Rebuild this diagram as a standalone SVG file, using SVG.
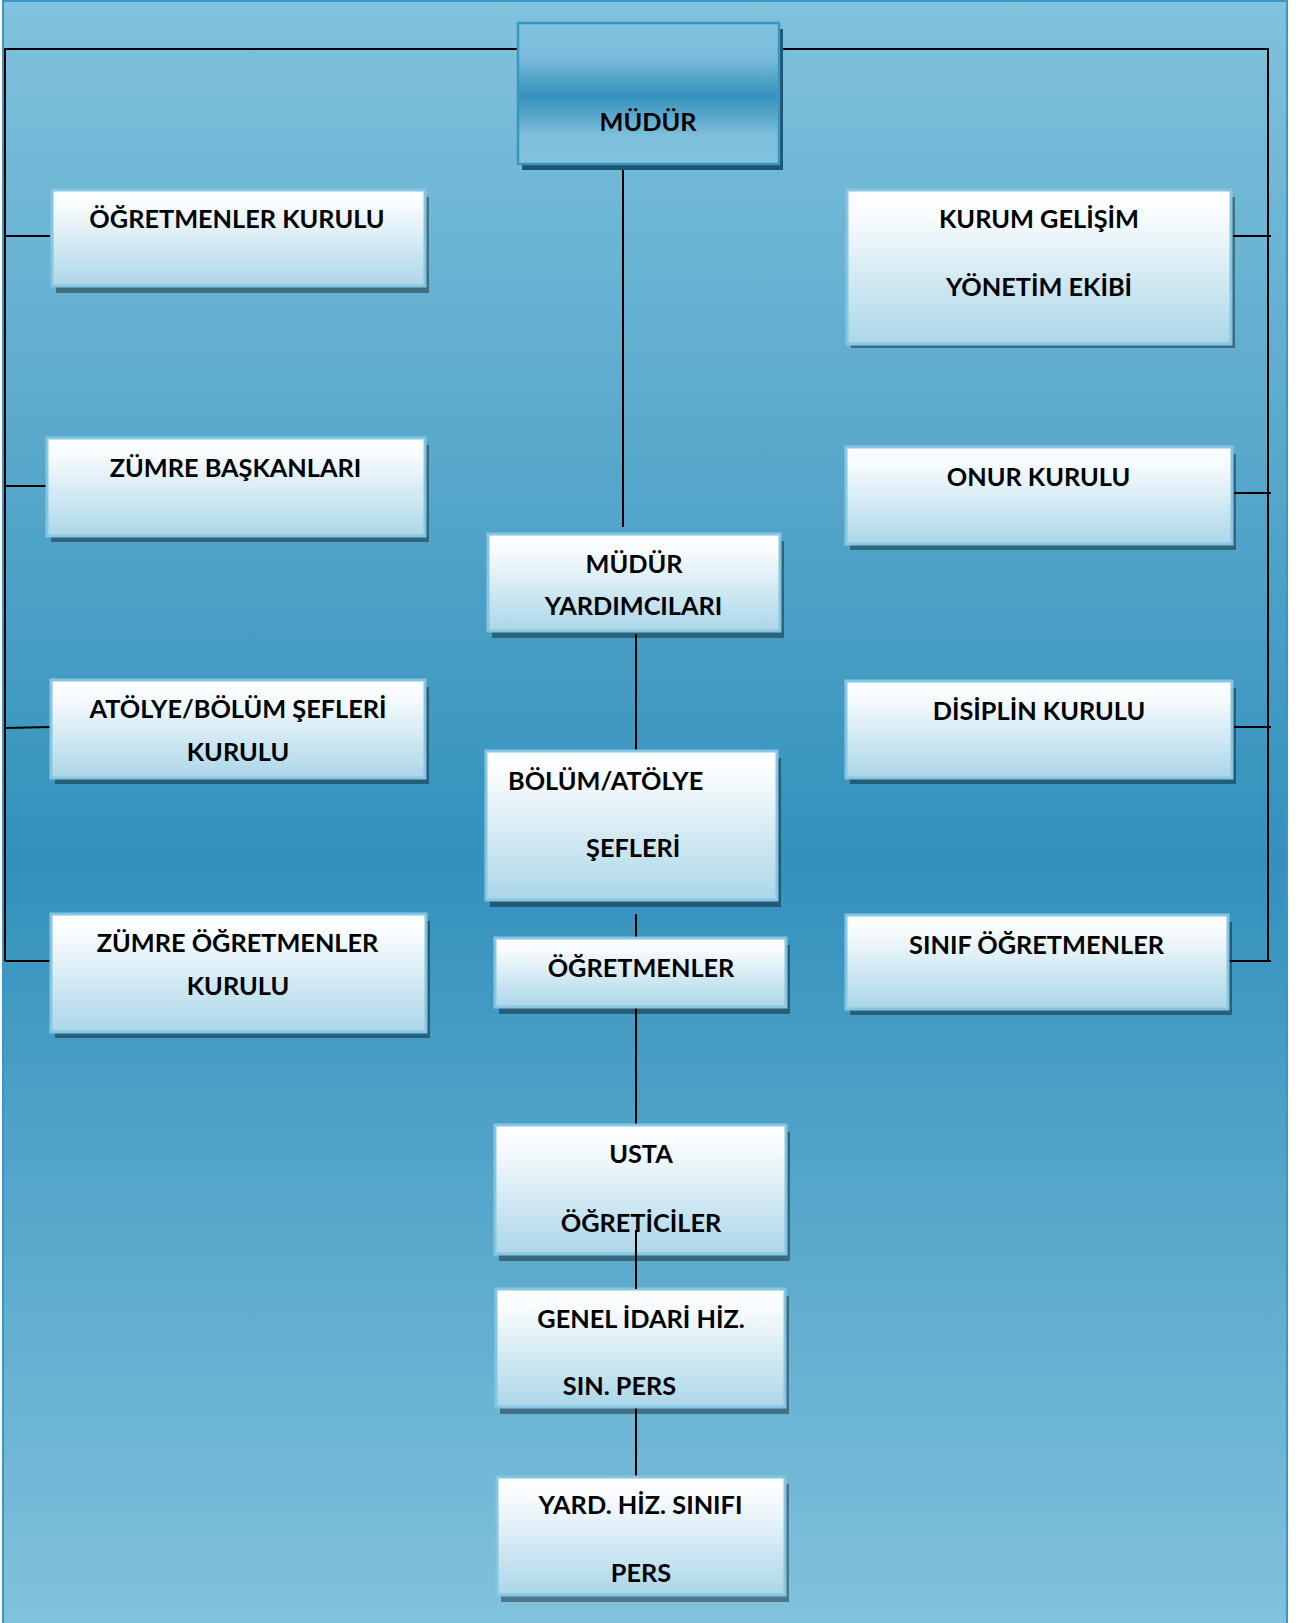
<svg xmlns="http://www.w3.org/2000/svg" width="1296" height="1623" viewBox="0 0 1296 1623">
<defs>
<linearGradient id="bg" x1="0" y1="0" x2="0" y2="1">
<stop offset="0" stop-color="#81c2dd"/>
<stop offset="0.53" stop-color="#3391bc"/>
<stop offset="1" stop-color="#81c2dd"/>
</linearGradient>
<linearGradient id="boxfill" x1="0" y1="0" x2="0" y2="1">
<stop offset="0" stop-color="#ffffff"/>
<stop offset="0.18" stop-color="#f7fbfd"/>
<stop offset="1" stop-color="#abd6e8"/>
</linearGradient>
<linearGradient id="topfill" x1="0" y1="0" x2="0" y2="1">
<stop offset="0" stop-color="#82c2dd"/>
<stop offset="0.25" stop-color="#7abcda"/>
<stop offset="0.52" stop-color="#3592bc"/>
<stop offset="0.8" stop-color="#7ebfdc"/>
<stop offset="1" stop-color="#82c2dd"/>
</linearGradient>
</defs>
<style>
.box{fill:url(#boxfill);stroke:#86c6e2;stroke-width:3}
.shadow{fill:#000000;fill-opacity:0.38}
.t{font-family:Lato,"Liberation Sans",sans-serif;font-weight:700;font-size:25.3px;fill:#000000;text-anchor:middle}
.ts{text-anchor:start}
.conn line,.conn path{stroke:#000000;stroke-width:2;fill:none}
</style>
<rect x="0" y="0" width="1296" height="1623" fill="#ffffff"/>
<rect x="3" y="1" width="1284" height="1624" fill="url(#bg)" stroke="#3d95c0" stroke-width="2"/>

<g id="connectors" class="conn">
<path d="M5,49 H518"/>
<path d="M782,49 H1268 V961"/>
<path d="M5,48 V961"/>
<line x1="5" y1="236" x2="50" y2="236"/>
<line x1="5" y1="486" x2="46" y2="486"/>
<line x1="5" y1="728" x2="50" y2="727"/>
<line x1="5" y1="961" x2="51" y2="961"/>
<line x1="1233" y1="236" x2="1271" y2="236"/>
<line x1="1234" y1="493" x2="1271" y2="493"/>
<line x1="1234" y1="727" x2="1271" y2="727"/>
<line x1="1229" y1="961" x2="1271" y2="961"/>
<line x1="623" y1="166" x2="623" y2="527"/>
<line x1="636" y1="634" x2="636" y2="751"/>
<line x1="636" y1="914" x2="636" y2="938"/>
<line x1="636" y1="1008" x2="636" y2="1125"/>
<line x1="636" y1="1406" x2="636" y2="1477"/>
</g>

<g id="mudur">
<rect x="522" y="29" width="261" height="141" fill="#1e5570"/>
<rect x="518" y="23" width="261" height="141" fill="url(#topfill)" stroke="#3a96c0" stroke-width="2.5"/>
<text class="t" x="648" y="131">MÜDÜR</text>
</g>

<g id="ogretmenler-kurulu">
<rect class="shadow" x="56" y="197" width="373" height="96"/>
<rect class="box" x="52" y="190" width="373" height="96"/>
<text class="t" x="237" y="228">ÖĞRETMENLER KURULU</text>
</g>

<g id="kurum-gelisim">
<rect class="shadow" x="851" y="197" width="384" height="151"/>
<rect class="box" x="847" y="190" width="384" height="154"/>
<text class="t" x="1039" y="228">KURUM GELİŞİM</text>
<text class="t" x="1039" y="296">YÖNETİM EKİBİ</text>
</g>

<g id="zumre-baskanlari">
<rect class="shadow" x="51" y="445" width="378" height="97"/>
<rect class="box" x="47" y="438" width="378" height="98"/>
<text class="t" x="235.5" y="477">ZÜMRE BAŞKANLARI</text>
</g>

<g id="onur-kurulu">
<rect class="shadow" x="850" y="454" width="386" height="96"/>
<rect class="box" x="846" y="447" width="386" height="97"/>
<text class="t" x="1038.5" y="486">ONUR KURULU</text>
</g>

<g id="mudur-yardimcilari">
<rect class="shadow" x="492" y="541" width="292" height="97"/>
<rect class="box" x="488" y="534" width="292" height="97"/>
<text class="t" x="634" y="573">MÜDÜR</text>
<text class="t" x="633.5" y="615">YARDIMCILARI</text>
</g>

<g id="atolye-bolum-sefleri-kurulu">
<rect class="shadow" x="55" y="687" width="374" height="97"/>
<rect class="box" x="51" y="680" width="374" height="98"/>
<text class="t" x="238" y="718">ATÖLYE/BÖLÜM ŞEFLERİ</text>
<text class="t" x="238" y="761">KURULU</text>
</g>

<g id="disiplin-kurulu">
<rect class="shadow" x="850" y="688" width="386" height="96"/>
<rect class="box" x="846" y="681" width="386" height="97"/>
<text class="t" x="1039" y="720">DİSİPLİN KURULU</text>
</g>

<g id="bolum-atolye-sefleri">
<rect class="shadow" x="490" y="758" width="291" height="149"/>
<rect class="box" x="486" y="751" width="291" height="149"/>
<text class="t ts" x="508" y="790">BÖLÜM/ATÖLYE</text>
<text class="t ts" x="586" y="857">ŞEFLERİ</text>
</g>

<g id="zumre-ogretmenler-kurulu">
<rect class="shadow" x="55" y="921" width="375" height="117"/>
<rect class="box" x="51" y="914" width="375" height="118"/>
<text class="t" x="237.5" y="952">ZÜMRE ÖĞRETMENLER</text>
<text class="t" x="238" y="995">KURULU</text>
</g>

<g id="sinif-ogretmenler">
<rect class="shadow" x="850" y="922" width="382" height="93"/>
<rect class="box" x="846" y="915" width="382" height="94"/>
<text class="t" x="1036.5" y="954">SINIF ÖĞRETMENLER</text>
</g>

<g id="ogretmenler">
<rect class="shadow" x="499" y="945" width="291" height="69"/>
<rect class="box" x="495" y="938" width="291" height="69"/>
<text class="t" x="641" y="977">ÖĞRETMENLER</text>
</g>

<g id="usta-ogreticiler">
<rect class="shadow" x="499" y="1132" width="291" height="129"/>
<rect class="box" x="495" y="1125" width="291" height="129"/>
<text class="t" x="641" y="1163">USTA</text>
<text class="t" x="641" y="1232">ÖĞRETİCİLER</text>
</g>

<g id="genel-idari">
<rect class="shadow" x="500" y="1296" width="289" height="118"/>
<rect class="box" x="496" y="1289" width="289" height="118"/>
<text class="t" x="641" y="1328">GENEL İDARİ HİZ.</text>
<text class="t" x="619.5" y="1395">SIN. PERS</text>
</g>

<g id="yard-hiz">
<rect class="shadow" x="501" y="1484" width="288" height="118"/>
<rect class="box" x="497" y="1477" width="288" height="118"/>
<text class="t" x="640.5" y="1514">YARD. HİZ. SINIFI</text>
<text class="t" x="641" y="1582">PERS</text>
</g>

<g id="overlay-connector" class="conn">
<line x1="636" y1="1230" x2="636" y2="1289"/>
</g>
</svg>
